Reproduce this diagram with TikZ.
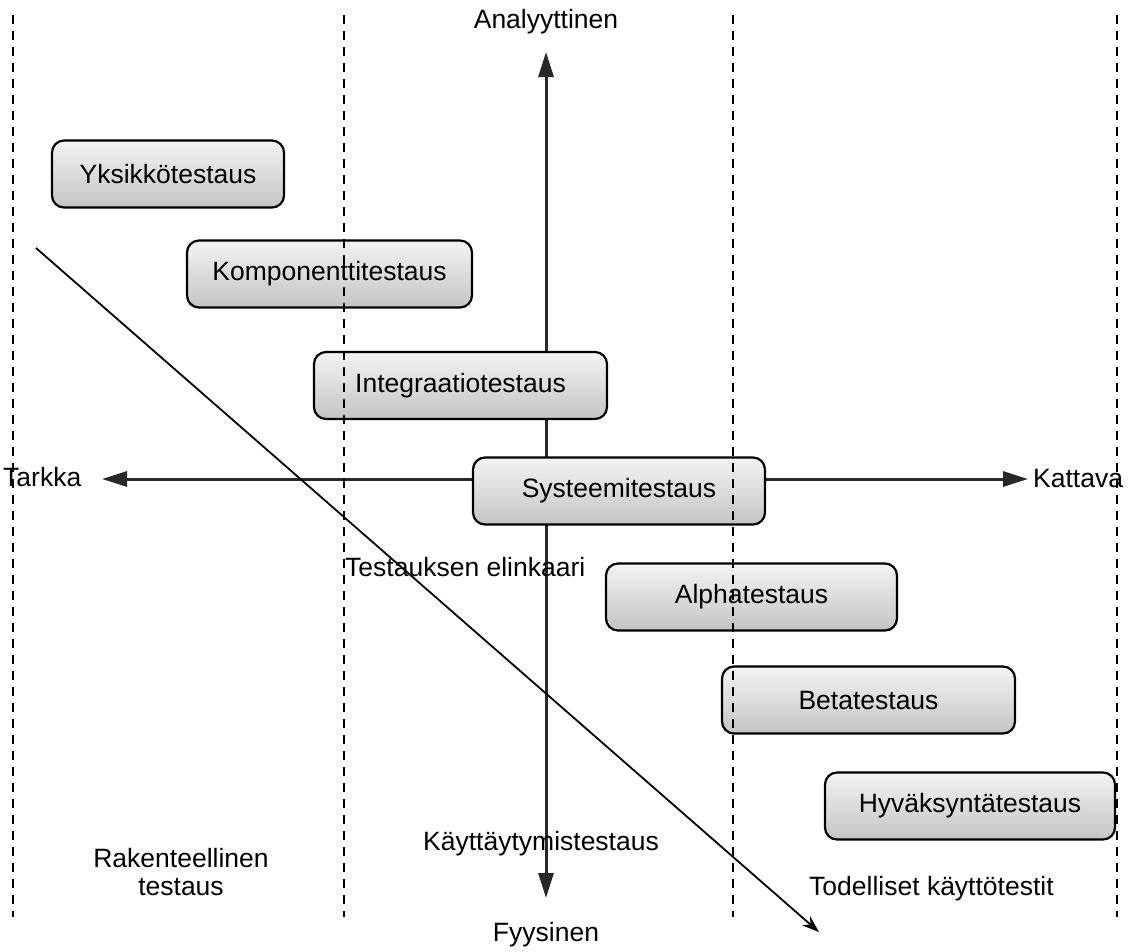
\documentclass[tikz,border=0pt]{standalone}
\usepackage{fontspec}
\setmainfont{Liberation Sans}
\usetikzlibrary{arrows.meta}
\definecolor{boxtop}{RGB}{244,244,244}
\definecolor{boxbottom}{RGB}{196,196,196}
\definecolor{axisgray}{RGB}{40,40,40}
\begin{document}
\begin{tikzpicture}[x=1pt,y=-1pt,
  testbox/.style={draw=black, line width=2.2pt, rounded corners=12pt,
    top color=boxtop, bottom color=boxbottom,
    minimum height=67pt, inner sep=0pt, font=\fontsize{26.5}{30}\selectfont},
  lbl/.style={inner sep=0pt, font=\fontsize{26.5}{30}\selectfont},
  axis/.style={line width=3pt, draw=axisgray,
    -{Triangle[length=25pt,width=15pt]}},
  divider/.style={line width=1.8pt, dash pattern=on 9pt off 7pt},
  trend/.style={line width=1.8pt, -{Stealth[length=17pt,width=12pt]}}]
\useasboundingbox (0,0) rectangle (1134,951);

% axis end points
\coordinate (centre) at (546,479);
\node[lbl, anchor=base] (analyt) at (546,28) {Analyyttinen};
\node[lbl, anchor=base] (fyys) at (546,941) {Fyysinen};
\node[lbl, anchor=base west] (tarkka) at (3,486) {Tarkka};
\node[lbl, anchor=base west] (kattava) at (1033,487) {Kattava};
\coordinate (up) at (546,52);
\coordinate (down) at (546,898);
\coordinate (left) at (102,479);
\coordinate (right) at (1028,479);

% axes
\draw[axis] (centre) -- (up);
\draw[axis] (centre) -- (down);
\draw[axis] (centre) -- (left);
\draw[axis] (centre) -- (right);

% test levels
\node[testbox, minimum width=232pt] (yks) at (168,174) {Yksikkötestaus};
\node[testbox, minimum width=285pt] (komp) at (329.5,274) {Komponenttitestaus};
\node[testbox, minimum width=293pt] (integ) at (460.5,385.5) {Integraatiotestaus};
\node[testbox, minimum width=292pt] (syst) at (619,491) {Systeemitestaus};
\node[testbox, minimum width=291pt] (alpha) at (751.5,597) {Alphatestaus};
\node[testbox, minimum width=293pt] (beta) at (868.5,700) {Betatestaus};
\node[testbox, minimum width=290pt] (hyv) at (970,806) {Hyväksyntätestaus};

% region dividers
\coordinate (d1t) at (13,15);   \coordinate (d1b) at (13,917);
\coordinate (d2t) at (344,15);  \coordinate (d2b) at (344,917);
\coordinate (d3t) at (733,15);  \coordinate (d3b) at (733,917);
\coordinate (d4t) at (1117,15); \coordinate (d4b) at (1117,917);
\draw[divider] (d1t) -- (d1b);
\draw[divider] (d2t) -- (d2b);
\draw[divider] (d3t) -- (d3b);
\draw[divider] (d4t) -- (d4b);

% life cycle
\coordinate (lcstart) at (36,248);
\coordinate (lcend) at (819,932);
\draw[trend] (lcstart) -- (lcend);
\node[lbl, anchor=base west] (elink) at (345,576) {Testauksen elinkaari};

% region captions
\node[lbl, anchor=base] (rak) at (181,867) {Rakenteellinen};
\node[lbl, anchor=base] (rak2) at (181,895) {testaus};
\node[lbl, anchor=base] (kayt) at (541,850) {Käyttäytymistestaus};
\node[lbl, anchor=base west] (tod) at (809,895) {Todelliset käyttötestit};
\end{tikzpicture}
\end{document}
